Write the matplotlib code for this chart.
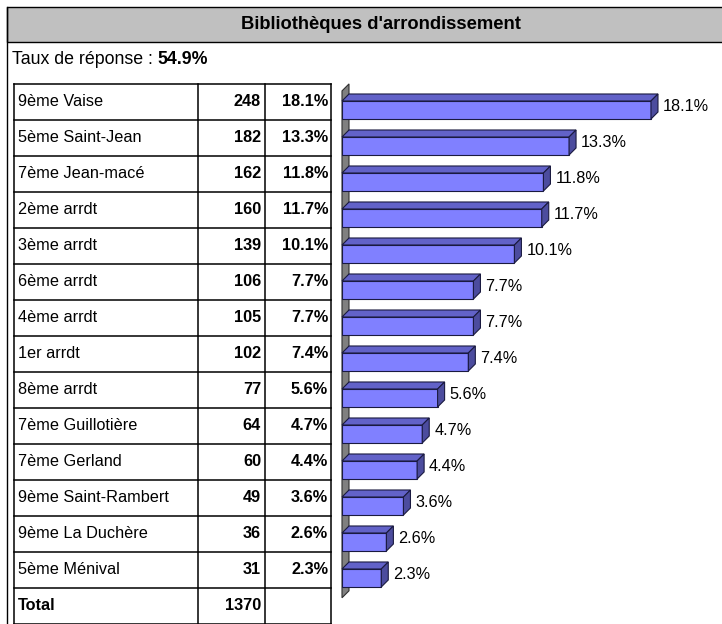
import matplotlib
matplotlib.use("Agg")
import matplotlib.pyplot as plt
from matplotlib.patches import Polygon, Rectangle
from matplotlib.transforms import IdentityTransform

plt.rcParams['font.family'] = ['Liberation Sans', 'DejaVu Sans']

title = "Bibliothèques d'arrondissement"
rate_label = "Taux de réponse : "
rate_value = "54.9%"
labels = ["9ème Vaise", "5ème Saint-Jean", "7ème Jean-macé", "2ème arrdt",
          "3ème arrdt", "6ème arrdt", "4ème arrdt", "1er arrdt", "8ème arrdt",
          "7ème Guillotière", "7ème Gerland", "9ème Saint-Rambert",
          "9ème La Duchère", "5ème Ménival"]
counts = [248, 182, 162, 160, 139, 106, 105, 102, 77, 64, 60, 49, 36, 31]
pcts = [18.1, 13.3, 11.8, 11.7, 10.1, 7.7, 7.7, 7.4, 5.6, 4.7, 4.4, 3.6, 2.6, 2.3]
total_label = "Total"
total_count = 1370

W, H = 722, 624
FS = 11.7
fig = plt.figure(figsize=(W / 100, H / 100), dpi=100)

# ---------- background frame ----------
bg = fig.add_axes([0, 0, 1, 1])
bg.set_xlim(0, W)
bg.set_ylim(H, 0)
bg.axis('off')
bg.add_patch(Rectangle((7, 7), 760, 35, facecolor='#C0C0C0', edgecolor='black', lw=1.0))
bg.plot([7, 7], [7, H], color='black', lw=1.0)
bg.text(381, 24.5, title, ha='center', va='center', fontsize=13.2, fontweight='bold')
t1 = bg.text(12, 60, rate_label, ha='left', va='center', fontsize=12.8)
bg.annotate(rate_value, xy=(1, 0.5), xycoords=t1, va='center', ha='left',
            fontsize=12.8, fontweight='bold')

# ---------- table ----------
n = len(labels)
nrows = n + 1
tab = fig.add_axes([14 / W, 0, 317 / W, (H - 84) / H])
tab.set_xlim(0, 317)
tab.set_ylim(nrows, 0)
tab.axis('off')
col_x = [0, 184, 251, 317]
for r in range(nrows + 1):
    tab.plot([0, 317], [r, r], color='black', lw=1.1, clip_on=False)
for cx in col_x:
    tab.plot([cx, cx], [0, nrows], color='black', lw=1.1, clip_on=False)
for i, (lab, c, p) in enumerate(zip(labels, counts, pcts)):
    y = i + 0.5
    tab.text(4, y, lab, ha='left', va='center', fontsize=FS)
    tab.text(247, y, f"{c}", ha='right', va='center', fontsize=FS, fontweight='bold')
    tab.text(314, y, f"{p:.1f}%", ha='right', va='center', fontsize=FS, fontweight='bold')
tab.text(4, n + 0.5, total_label, ha='left', va='center', fontsize=FS, fontweight='bold')
tab.text(247, n + 0.5, f"{total_count}", ha='right', va='center', fontsize=FS, fontweight='bold')

# ---------- 3D bars ----------
ax = fig.add_axes([342 / W, 0, 380 / W, (H - 84) / H])
ax.set_xlim(0, 22.26)
ax.set_ylim(n + 1 - 0.722, -0.722)
ax.axis('off')

DX, DY = 7, 7  # depth offset in pixels
front_c = '#8080FF'
top_c = '#6262C8'
side_c = '#4C4C9E'
edge_c = '#1A1A40'
bh = 0.5

td = ax.transData


def disp(x, y):
    return td.transform((x, y))


# side wall
w_top = disp(0, -0.53)
w_bot = disp(0, n - 1 + 0.55)
wall = [w_bot, w_top, (w_top[0] + DX, w_top[1] + DY), (w_bot[0] + DX, w_bot[1] + DY)]
ax.add_patch(Polygon(wall, closed=True, facecolor='#808080', edgecolor='#303030',
                     lw=0.8, transform=IdentityTransform(), clip_on=False, zorder=1))

ys = list(range(n))
ax.barh(ys, pcts, height=bh, left=0, color=front_c, edgecolor=edge_c, lw=0.8, zorder=3)
for y, v in zip(ys, pcts):
    tl = disp(0, y - bh / 2)
    tr = disp(v, y - bh / 2)
    br = disp(v, y + bh / 2)
    top = [tl, tr, (tr[0] + DX, tr[1] + DY), (tl[0] + DX, tl[1] + DY)]
    side = [tr, br, (br[0] + DX, br[1] + DY), (tr[0] + DX, tr[1] + DY)]
    ax.add_patch(Polygon(top, closed=True, facecolor=top_c, edgecolor=edge_c, lw=0.8,
                         transform=IdentityTransform(), clip_on=False, zorder=4))
    ax.add_patch(Polygon(side, closed=True, facecolor=side_c, edgecolor=edge_c, lw=0.8,
                         transform=IdentityTransform(), clip_on=False, zorder=4))
    ax.annotate(f"{v:.1f}%", xy=(v, y), xytext=(DX + 5, 3), textcoords='offset pixels',
                ha='left', va='center', fontsize=FS, zorder=5)

fig.savefig("out.png", dpi=100)
